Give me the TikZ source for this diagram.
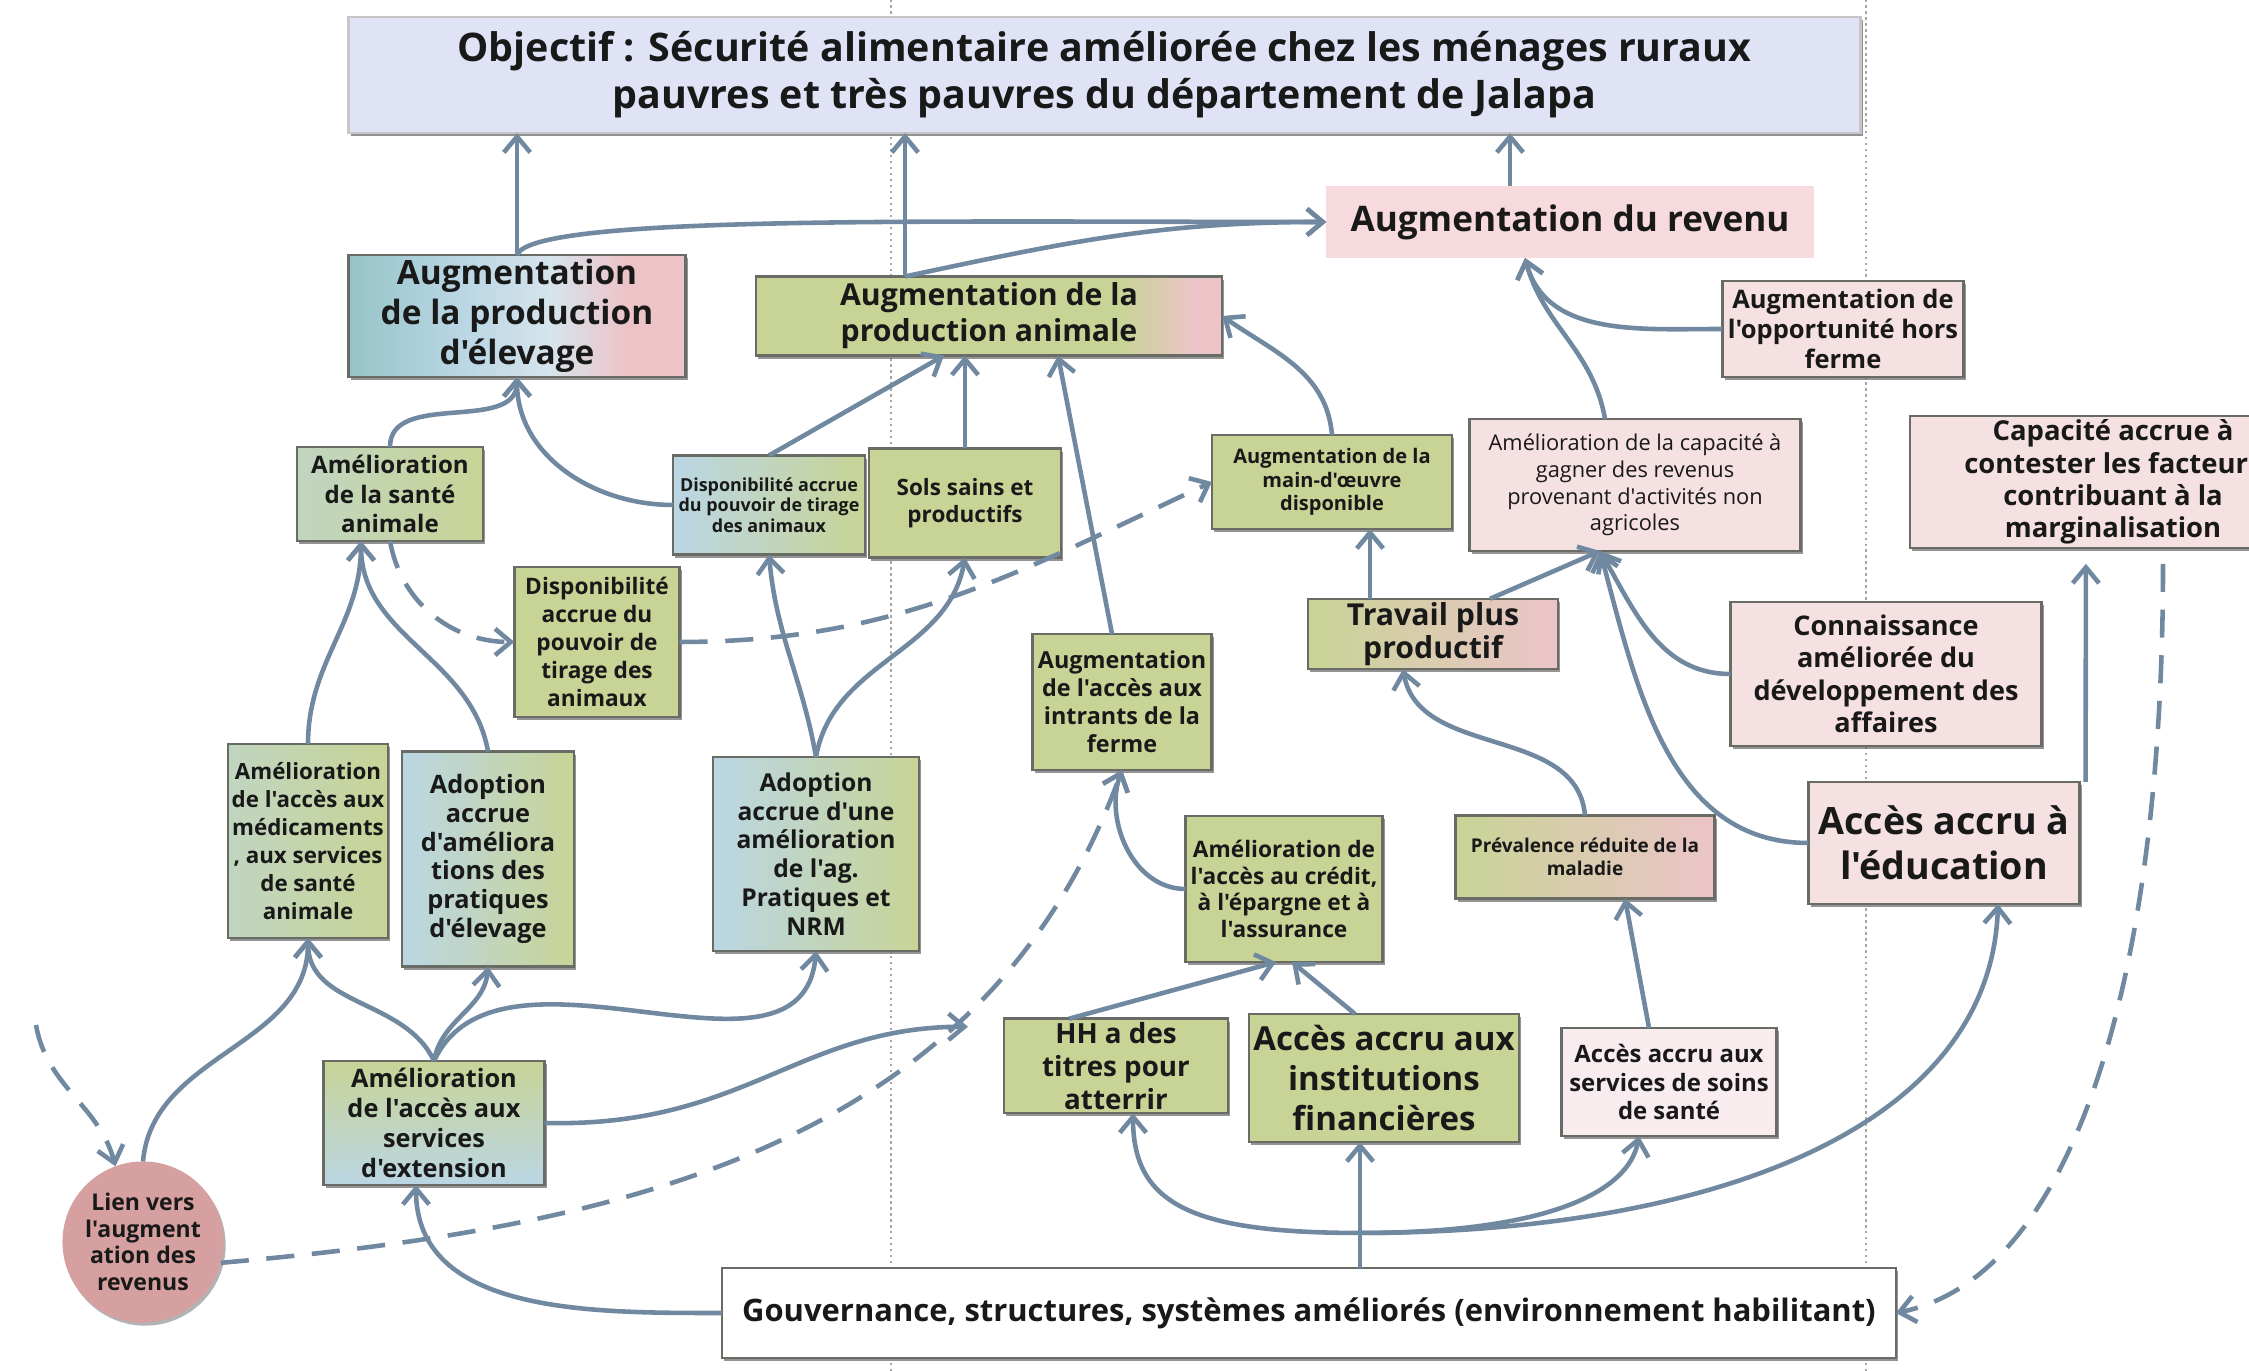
\documentclass[tikz,border=0pt]{standalone}
\usepackage{fontspec}
\setmainfont{Open Sans}[Ligatures=TeXOff]
\usetikzlibrary{arrows.meta,positioning,calc,shadows}

\definecolor{cgreen}{RGB}{200,212,150}
\definecolor{cblue}{RGB}{186,214,228}
\definecolor{cbluewt}{RGB}{214,228,236}
\definecolor{cteal}{RGB}{150,196,200}
\definecolor{cpink}{RGB}{236,196,200}
\definecolor{cpinklt}{RGB}{245,224,226}
\definecolor{csoins}{RGB}{249,236,238}
\definecolor{crev}{RGB}{246,218,222}
\definecolor{clav}{RGB}{224,227,245}
\definecolor{clien}{RGB}{214,160,160}
\definecolor{arrowc}{RGB}{112,137,160}
\definecolor{edgec}{RGB}{105,108,100}

\pgfdeclarehorizontalshading{elevshade}{100bp}{color(0bp)=(cteal); color(25bp)=(cteal); color(42bp)=(cblue); color(55bp)=(cbluewt); color(66bp)=(cpink); color(100bp)=(cpink)}
\pgfdeclarehorizontalshading{animshade}{100bp}{color(0bp)=(cgreen); color(25bp)=(cgreen); color(64bp)=(cgreen); color(72bp)=(cpink); color(100bp)=(cpink)}

\newcommand{\fsz}[2]{\fontsize{#1}{#2}\selectfont}

\tikzset{
  plain/.style={align=center, inner sep=1pt, outer sep=0pt, text=black!90},
  box/.style={plain, draw=edgec, line width=0.7pt, drop shadow={shadow xshift=0.6pt, shadow yshift=-0.9pt, fill=black!60, opacity=0.7}},
  gbox/.style={box, fill=cgreen},
  pbox/.style={box, fill=cpinklt},
  bgbox/.style={box, left color=cblue, right color=cgreen},
  mixbox/.style={box, left color=cgreen!45!cblue, middle color=cblue, right color=cgreen},
  gpbox/.style={box, left color=cgreen, middle color=cgreen, right color=cpink},
  sz/.style 2 args={minimum width=#1cm, minimum height=#2cm},
  fnt/.style 2 args={font=\bfseries\fsz{#1}{#2}},
  arr/.style={draw=arrowc, line width=1.3pt, -{Straight Barb[length=4.5pt, width=7.5pt]}},
  dsh/.style={dash pattern=on 8pt off 5pt},
  sep/.style={draw=gray!70, densely dotted, line width=0.7pt}
}

\begin{document}
\begin{tikzpicture}[x=0.01cm, y=0.01cm]
    \useasboundingbox (0,0) rectangle (2249,1371);
    \draw[sep] (891,0) -- (891,1371);
    \draw[sep] (1866,0) -- (1866,1371);

    \node[box, fill=clav, draw=gray!45, sz={15.11}{1.16}, fnt={11.2}{13.4}] (title) at (1104.5,1296) {Objectif : Sécurité alimentaire améliorée chez les ménages ruraux\\pauvres et très pauvres du département de Jalapa};
    \node[plain, fill=crev, sz={4.87}{0.72}, fnt={10}{12}] (revenu) at (1570,1149) {Augmentation du revenu};
    \node[box, shading=elevshade, sz={3.37}{1.22}, fnt={9.5}{11.4}] (elevage) at (517,1055) {Augmentation\\de la production\\d'élevage};
    \node[box, shading=animshade, sz={4.66}{0.79}, fnt={8.6}{10.2}] (prodanim) at (989,1055) {Augmentation de la\\production animale};
    \node[pbox, sz={2.41}{0.96}, fnt={7.25}{8.6}] (horsferme) at (1843,1042) {Augmentation de\\l'opportunité hors\\ferme};
    \node[mixbox, sz={1.86}{0.94}, fnt={6.85}{8.3}] (sante) at (390,877) {Amélioration\\de la santé\\animale};
    \node[bgbox, sz={1.92}{0.99}, fnt={5.1}{5.8}] (tirage) at (769,866) {Disponibilité accrue\\du pouvoir de tirage\\des animaux};
    \node[gbox, sz={1.92}{1.09}, fnt={6.4}{7.8}] (sols) at (965,868) {Sols sains et\\productifs};
    \node[gbox, sz={2.40}{0.94}, fnt={5.7}{6.6}] (maindoeuvre) at (1332,889) {Augmentation de la\\main-d'œuvre\\disponible};
    \node[pbox, sz={3.31}{1.32}, font=\fsz{6.2}{7.6}] (capacite) at (1635,886) {Amélioration de la capacité à\\gagner des revenus\\provenant d'activités non\\agricoles};
    \node[pbox, sz={4.06}{1.27}, fnt={7.8}{9.2}] (contester) at (2113,889) {Capacité accrue à\\contester les facteurs\\contribuant à la\\marginalisation};
    \node[gbox, sz={1.65}{1.50}, fnt={6.45}{8}] (tiragebig) at (597,729) {Disponibilité\\accrue du\\pouvoir de\\tirage des\\animaux};
    \node[gpbox, sz={2.50}{0.66}, fnt={8.6}{9.4}] (travail) at (1433,737) {Travail plus\\productif};
    \node[pbox, sz={3.11}{1.44}, fnt={7.7}{9.2}] (connaissance) at (1886,697) {Connaissance\\améliorée du\\développement des\\affaires};
    \node[gbox, sz={1.79}{1.36}, fnt={6.65}{8}] (intrants) at (1122,669) {Augmentation\\de l'accès aux\\intrants de la\\ferme};
    \node[mixbox, sz={1.58}{1.94}, fnt={6.35}{8}] (medicaments) at (308,530) {Amélioration\\de l'accès aux\\médicaments\\, aux services\\de santé\\animale};
    \node[bgbox, sz={1.72}{2.15}, fnt={7.2}{8.2}] (pratiques) at (488,512) {Adoption\\accrue\\d'améliora\\tions des\\pratiques\\d'élevage};
    \node[bgbox, sz={2.06}{1.94}, fnt={7}{8.2}] (nrm) at (816,517) {Adoption\\accrue d'une\\amélioration\\de l'ag.\\Pratiques et\\NRM};
    \node[gbox, sz={1.97}{1.46}, fnt={6.45}{7.6}] (credit) at (1284,482) {Amélioration de\\l'accès au crédit,\\à l'épargne et à\\l'assurance};
    \node[gpbox, sz={2.59}{0.83}, fnt={5.4}{6.5}] (prevalence) at (1585,514) {Prévalence réduite de la\\maladie};
    \node[pbox, sz={2.71}{1.22}, fnt={10.7}{12.7}] (education) at (1944,528) {Accès accru à\\l'éducation};
    \node[gbox, sz={2.24}{0.93}, fnt={7.9}{9.4}] (titres) at (1116,305) {HH a des\\titres pour\\atterrir};
    \node[gbox, sz={2.70}{1.28}, fnt={9.4}{11.4}] (institutions) at (1384,293) {Accès accru aux\\institutions\\financières};
    \node[box, fill=csoins, sz={2.15}{1.08}, fnt={6.8}{8}] (soins) at (1669,289) {Accès accru aux\\services de soins\\de santé};
    \node[box, top color=cgreen, bottom color=cblue, sz={2.21}{1.24}, fnt={7.2}{8.6}] (extension) at (434,248) {Amélioration\\de l'accès aux\\services\\d'extension};
    \node[plain, circle, fill=clien, minimum size=1.58cm, fnt={6.55}{7.6}, drop shadow={shadow xshift=0.6pt, shadow yshift=-0.9pt, fill=black!50, opacity=0.6}] (lien) at (143,129) {Lien vers\\l'augment\\ation des\\revenus};
    \node[box, fill=white, sz={11.73}{0.90}, fnt={8.8}{10}] (gouvernance) at (1309,58) {Gouvernance, structures, systèmes améliorés (environnement habilitant)};

    \coordinate (pa) at ($(prodanim.north)+(-84,0)$);
    \coordinate (rv) at ($(revenu.north)+(-60,0)$);
    \coordinate (rvin) at ($(revenu.south)+(-45,0)$);
    \coordinate (capin) at ($(capacite.south)+(-35,0)$);
    \coordinate (tp) at ($(travail.north)+(-63,0)$);
    \coordinate (sin) at ($(sante.south)+(-29,0)$);
    \coordinate (gv) at ($(gouvernance.north)+(51,0)$);
    \coordinate (hub) at ($(gv)+(0,35)$);
    \coordinate (lienin) at (36,346);

    \draw[arr] (elevage.north) -- (elevage.north |- title.south);
    \draw[arr] (pa) -- (pa |- title.south);
    \draw[arr] (rv) -- (rv |- title.south);
    \draw[arr] (elevage.north) .. controls +(15,40) and +(-400,0) .. (revenu.west);
    \draw[arr] (pa) to[out=12, in=180] (revenu.west);
    \draw[arr] ($(capacite.north)+(-30,0)$) to[out=100, in=-75] (rvin);
    \draw[arr] (horsferme.west) to[out=180, in=-75] (rvin);

    \draw[arr] ($(travail.north)+(57,0)$) -- (capin);
    \draw[arr] (connaissance.west) to[out=180, in=-60] (capin);
    \draw[arr] (education.west) to[out=180, in=-75] (capin);
    \draw[arr] (tp) -- (tp |- maindoeuvre.south);
    \draw[arr] (maindoeuvre.north) to[out=95, in=-35] (prodanim.east);
    \draw[arr] ($(intrants.north)+(-10,0)$) -- ($(prodanim.south)+(69,0)$);
    \draw[arr] (sols.north) -- (sols.north |- prodanim.south);
    \draw[arr] (tirage.north) -- ($(prodanim.south)+(-45,0)$);
    \draw[arr] (prevalence.north) to[out=95, in=-80] ($(travail.south)+(-30,0)$);
    \draw[arr] ($(soins.north)+(-20,0)$) -- ($(prevalence.south)+(40,0)$);

    \draw[arr] (sante.north) to[out=90, in=-90] (elevage.south);
    \draw[arr] (tirage.west) to[out=180, in=-90] (elevage.south);
    \draw[arr] (medicaments.north) to[out=90, in=-90] (sin);
    \draw[arr] (pratiques.north) to[out=100, in=-90] (sin);
    \draw[arr, dsh] (sante.south) to[out=-80, in=180] (tiragebig.west);
    \draw[arr, dsh] (tiragebig.east) to[out=0, in=205] (maindoeuvre.west);
    \draw[arr] (nrm.north) to[out=100, in=-85] (tirage.south);
    \draw[arr] (nrm.north) to[out=80, in=-100] (sols.south);

    \draw[arr] (credit.west) to[out=180, in=-110] (intrants.south);
    \draw[arr, dsh] (lien.-15) to[out=5, in=-110] (intrants.south);
    \draw[arr] ($(titres.north)+(-47,0)$) -- ($(credit.south)+(-8,0)$);
    \draw[arr] ($(institutions.north)+(-29,0)$) -- ($(credit.south)+(8,0)$);

    \draw[arr] (extension.east) .. controls +(200,-5) and +(-170,0) .. ($(titres.north west)+(-36,-8)$);
    \draw[arr] (extension.north) to[out=115, in=-90] (medicaments.south);
    \draw[arr] (extension.north) to[out=80, in=-95] (pratiques.south);
    \draw[arr] (extension.north) to[out=65, in=-95] (nrm.south);
    \draw[arr] (lien.north) to[out=85, in=-90] (medicaments.south);
    \draw[arr, dsh] (lienin) to[out=-80, in=105] (lien.110);

    \draw[arr] (gouvernance.west) to[out=180, in=-90] ($(extension.south)+(-18,0)$);
    \draw[arr] (gv) -- (gv |- institutions.south);
    \draw[arr] (hub) .. controls +(-170,0) and +(0,-90) .. ($(titres.south)+(17,0)$);
    \draw[arr] (hub) .. controls +(190,0) and +(-10,-55) .. ($(soins.south)+(-30,0)$);
    \draw[arr] (hub) .. controls +(340,0) and +(-8,-230) .. ($(education.south)+(54,0)$);
    \draw[arr] ($(education.north east)+(6,0)$) -- ($(contester.south west)+(176,-16)$);
    \draw[arr, dsh] ($(contester.south)+(50,-16)$) .. controls +(0,-409) and +(180,37) .. (gouvernance.east);
\end{tikzpicture}
\end{document}
